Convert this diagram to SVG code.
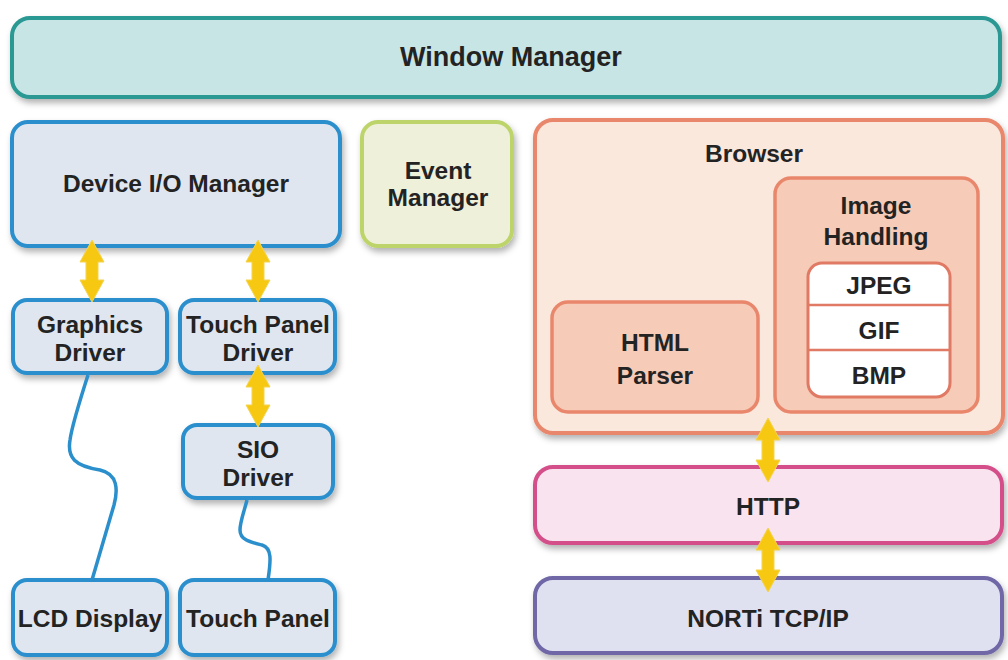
<svg xmlns="http://www.w3.org/2000/svg" width="1008" height="660" viewBox="0 0 1008 660">
<defs>
<filter id="sh" x="-10%" y="-10%" width="125%" height="130%">
<feDropShadow dx="2" dy="4" stdDeviation="3" flood-color="#000" flood-opacity="0.3"/>
</filter>
</defs>
<style>
text{font-family:"Liberation Sans",Arial,sans-serif;font-weight:bold;font-size:24.5px;fill:#232323;text-anchor:middle;}
.big{font-size:27px;}
.box{stroke-width:4;filter:url(#sh);}
.wm{fill:#c8e5e6;stroke:#2a9893;}
.dev{fill:#dfe6ef;stroke:#2b8fcc;}
.ev{fill:#eff0d9;stroke:#bcd46a;}
.br{fill:#fbe8dd;stroke:#e9876c;}
.inner{fill:#f6cbb7;stroke:#e9876c;stroke-width:3.5;}
.white{fill:#fff;stroke:#e07a64;stroke-width:3;}
.http{fill:#f9e3ee;stroke:#d44f8a;}
.tcp{fill:#dfe0f0;stroke:#6f67a6;}
.wire{fill:none;stroke:#2b8fcc;stroke-width:3.5;}
.arr{fill:#f7c812;stroke:#f3d350;stroke-width:1;}
</style>
<rect width="1008" height="660" fill="#fff"/>

<g id="window-manager">
<rect class="box wm" x="12" y="18" width="988" height="79" rx="18"/>
<text class="big" x="511" y="66">Window Manager</text>
</g>

<g id="device-io-manager">
<rect class="box dev" x="12" y="122" width="328" height="124" rx="16"/>
<text x="176" y="192">Device I/O Manager</text>
</g>

<g id="event-manager">
<rect class="box ev" x="362" y="122" width="150" height="124" rx="16"/>
<text x="438" y="179">Event</text>
<text x="438" y="206">Manager</text>
</g>

<g id="browser">
<rect class="box br" x="535" y="120" width="468" height="313" rx="18"/>
<text x="754" y="162">Browser</text>
</g>

<g id="html-parser">
<rect class="inner" x="552" y="302" width="206" height="110" rx="16"/>
<text x="655" y="351">HTML</text>
<text x="655" y="384">Parser</text>
</g>

<g id="image-handling">
<rect class="inner" x="775" y="178" width="203" height="234" rx="16"/>
<text x="876" y="214">Image</text>
<text x="876" y="245">Handling</text>
</g>

<g id="formats">
<rect class="white" x="808" y="263" width="142" height="134" rx="14"/>
<line x1="808" y1="305" x2="950" y2="305" stroke="#e07a64" stroke-width="2.5"/>
<line x1="808" y1="350" x2="950" y2="350" stroke="#e07a64" stroke-width="2.5"/>
</g>
<g id="jpeg"><text x="879" y="294">JPEG</text></g>
<g id="gif"><text x="879" y="339">GIF</text></g>
<g id="bmp"><text x="879" y="384">BMP</text></g>

<g id="http">
<rect class="box http" x="535" y="467" width="467" height="76" rx="18"/>
<text x="768" y="515">HTTP</text>
</g>

<g id="norti">
<rect class="box tcp" x="535" y="578" width="467" height="75" rx="18"/>
<text x="768" y="627">NORTi TCP/IP</text>
</g>

<g id="graphics-driver">
<rect class="box dev" x="13" y="300" width="154" height="73" rx="14"/>
<text x="90" y="333">Graphics</text>
<text x="90" y="361">Driver</text>
</g>

<g id="touch-panel-driver">
<rect class="box dev" x="180" y="300" width="155" height="73" rx="14"/>
<text x="258" y="333">Touch Panel</text>
<text x="258" y="361">Driver</text>
</g>

<g id="sio-driver">
<rect class="box dev" x="183" y="425" width="150" height="73" rx="14"/>
<text x="258" y="458">SIO</text>
<text x="258" y="486">Driver</text>
</g>

<g id="lcd-display">
<rect class="box dev" x="13" y="580" width="154" height="75" rx="14"/>
<text x="90" y="627">LCD Display</text>
</g>

<g id="touch-panel">
<rect class="box dev" x="180" y="580" width="155" height="75" rx="14"/>
<text x="258" y="627">Touch Panel</text>
</g>

<g id="connectors">
<path class="wire" d="M88,375 C80,400 72,425 70,440 C67,458 75,466 100,470 C118,474 118,490 114,505 L92,580"/>
<path class="wire" d="M247,500 C244,512 240,522 240,530 C240,540 250,542 262,545 C272,548 271,560 268,580"/>
<polygon class="arr" points="92,240 104,262 98,262 98,280 104,280 92,302 80,280 86,280 86,262 80,262"/>
<polygon class="arr" points="258,240 270,262 264,262 264,280 270,280 258,302 246,280 252,280 252,262 246,262"/>
<polygon class="arr" points="258,365 270,387 264,387 264,405 270,405 258,427 246,405 252,405 252,387 246,387"/>
<polygon class="arr" points="768,418 780,440 774,440 774,460 780,460 768,482 756,460 762,460 762,440 756,440"/>
<polygon class="arr" points="768,528 780,550 774,550 774,570 780,570 768,592 756,570 762,570 762,550 756,550"/>
</g>
</svg>
